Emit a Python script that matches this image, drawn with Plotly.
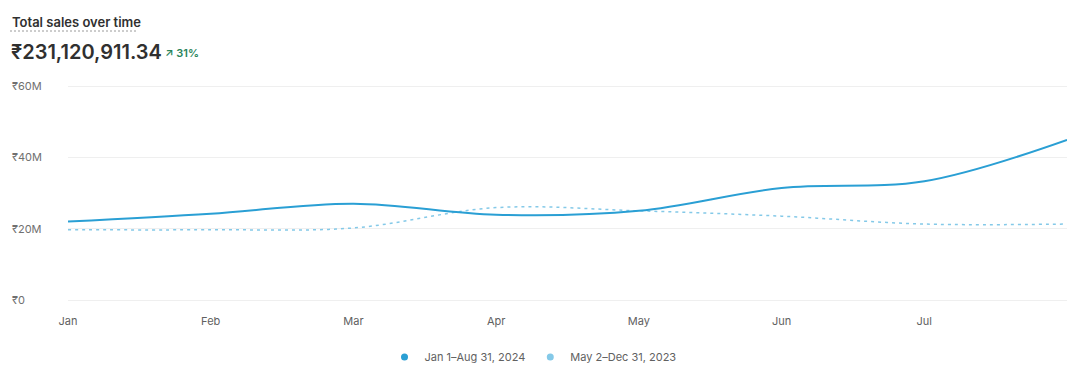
import plotly.graph_objects as go

# ---- data ----
months = ["Jan", "Feb", "Mar", "Apr", "May", "Jun", "Jul", "Aug"]
tick_labels = ["Jan", "Feb", "Mar", "Apr", "May", "Jun", "Jul"]
sales_2024 = [22.0, 24.2, 27.0, 23.9, 25.0, 31.4, 33.3, 44.9]   # millions INR
sales_2023 = [19.7, 19.7, 20.2, 25.9, 25.0, 23.5, 21.3, 21.3]   # millions INR
y_ticks = [0, 20, 40, 60]
y_tick_labels = ["₹0", "₹20M", "₹40M", "₹60M"]
series_names = ["Jan 1–Aug 31, 2024", "May 2–Dec 31, 2023"]
total_text = "₹231,120,911.34"
change_text = "↗ 31%"
title_text = "Total sales over time"

C_CUR = "#2a9fd4"
C_PREV = "#84c9e8"
FONT = "Inter, Roboto, sans-serif"

x_idx = list(range(len(months)))
tick_idx = list(range(len(tick_labels)))

fig = go.Figure()
fig.add_trace(go.Scatter(
    x=x_idx, y=sales_2023, mode="lines", showlegend=False, hoverinfo="skip",
    line=dict(color=C_PREV, width=1.5, dash="3px,4px", shape="spline", smoothing=1.0),
))
fig.add_trace(go.Scatter(
    x=x_idx, y=sales_2024, mode="lines", showlegend=False, hoverinfo="skip",
    line=dict(color=C_CUR, width=2, shape="spline", smoothing=1.0),
))
# legend entries (dots)
for name, col in zip(series_names, [C_CUR, C_PREV]):
    fig.add_trace(go.Scatter(
        x=[None], y=[None], mode="markers", name=name,
        marker=dict(color=col, size=7, symbol="circle"),
    ))

# page body has an 8px margin; figure is sized/offset to compensate
OFF = 8
PAD = 2  # px of padding above/below the 60M / 0 gridlines so they get drawn
W, H = 1079 - 2 * OFF, 379 - 2 * OFF
ML, MT = 68 - OFF, 86 - OFF - PAD
PLOT_R, PLOT_B = 1067 - OFF, 300 - OFF + PAD
MR, MB = W - PLOT_R, H - PLOT_B
PW = PLOT_R - ML
PH = PLOT_B - MT
Y_PAD = 60 * PAD / (PH - 2 * PAD)

def px_x(p):
    return (p - OFF - ML) / PW

def px_y(p):
    return (PLOT_B - (p - OFF)) / PH

annotations = [
    dict(text=title_text, x=px_x(10), y=px_y(22), xref="paper", yref="paper",
         xanchor="left", yanchor="middle", showarrow=False,
         font=dict(family=FONT, size=13, color="#303030", weight=600)),
    dict(text=total_text, x=px_x(9), y=px_y(52), xref="paper", yref="paper",
         xanchor="left", yanchor="middle", showarrow=False,
         font=dict(family=FONT, size=20, color="#303030", weight=600)),
    dict(text=change_text, x=px_x(163), y=px_y(53), xref="paper", yref="paper",
         xanchor="left", yanchor="middle", showarrow=False,
         font=dict(family=FONT, size=11, color="#29845a", weight=600)),
]
for v, lab in zip(y_ticks, y_tick_labels):
    annotations.append(dict(
        text=lab, x=px_x(10), y=v, xref="paper", yref="y",
        xanchor="left", yanchor="middle", showarrow=False,
        font=dict(family=FONT, size=11, color="#707070"),
    ))

shapes = [dict(
    type="line", xref="paper", yref="paper",
    x0=px_x(10), x1=px_x(138), y0=px_y(31), y1=px_y(31),
    line=dict(color="#9a9a9a", width=1, dash="2px,2px"),
)]

fig.update_layout(
    width=W, height=H, autosize=False,
    margin=dict(l=ML, r=MR, t=MT, b=MB, autoexpand=False),
    paper_bgcolor="white", plot_bgcolor="white",
    font=dict(family=FONT, size=11, color="#616161"),
    annotations=annotations, shapes=shapes,
    showlegend=True,
    legend=dict(
        orientation="h", x=px_x(533), xanchor="center", y=px_y(357), yanchor="middle",
        font=dict(family=FONT, size=11, color="#616161"),
        itemwidth=30, bgcolor="rgba(0,0,0,0)",
    ),
    hovermode=False,
)
fig.update_xaxes(
    range=[0, len(months) - 1], tickvals=tick_idx, ticktext=tick_labels,
    showgrid=False, zeroline=False, showline=False, ticks="",
    ticklabelstandoff=13 - PAD, tickfont=dict(family=FONT, size=11, color="#616161"),
    fixedrange=True,
)
fig.update_yaxes(
    range=[-Y_PAD, 60 + Y_PAD], tickvals=y_ticks, showticklabels=False,
    showgrid=True, gridcolor="#efefef", gridwidth=1,
    zeroline=False, showline=False, ticks="", fixedrange=True,
)

fig.write_html("out.html", config={"displayModeBar": False})
